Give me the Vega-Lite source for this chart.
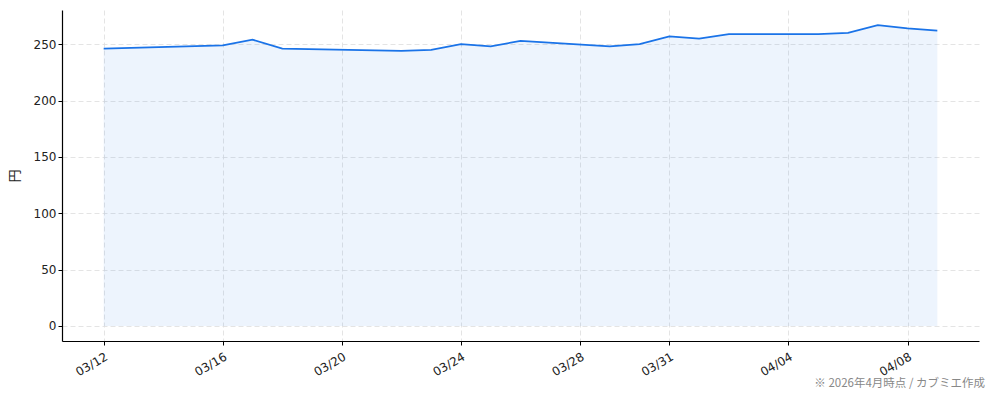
{
  "$schema": "https://vega.github.io/schema/vega-lite/v6.json",
  "description": "Daily price in yen, 2026-03-12 to 2026-04-09, line with light area fill.",
  "autosize": {"type": "none"},
  "padding": {"left": 62, "top": 10, "right": 15, "bottom": 60},
  "width": 917,
  "height": 331,
  "title": {
    "text": "※ 2026年4月時点 / カブミエ作成",
    "orient": "bottom",
    "anchor": "end",
    "fontSize": 11.5,
    "fontWeight": "normal",
    "color": "#888888",
    "font": "Noto Sans CJK JP",
    "dx": 6,
    "offset": 0
  },
  "data": {
    "values": [
      {"date": "2026-03-12", "price": 246},
      {"date": "2026-03-16", "price": 249},
      {"date": "2026-03-17", "price": 254},
      {"date": "2026-03-18", "price": 246},
      {"date": "2026-03-22", "price": 244},
      {"date": "2026-03-23", "price": 245},
      {"date": "2026-03-24", "price": 250},
      {"date": "2026-03-25", "price": 248},
      {"date": "2026-03-26", "price": 253},
      {"date": "2026-03-29", "price": 248},
      {"date": "2026-03-30", "price": 250},
      {"date": "2026-03-31", "price": 257},
      {"date": "2026-04-01", "price": 255},
      {"date": "2026-04-02", "price": 259},
      {"date": "2026-04-05", "price": 259},
      {"date": "2026-04-06", "price": 260},
      {"date": "2026-04-07", "price": 267},
      {"date": "2026-04-08", "price": 264},
      {"date": "2026-04-09", "price": 262}
    ]
  },
  "encoding": {
    "x": {
      "field": "date",
      "type": "temporal",
      "scale": {
        "type": "utc",
        "domain": [
          {"year": 2026, "month": 3, "date": 10, "hours": 14, "minutes": 24, "utc": true},
          {"year": 2026, "month": 4, "date": 10, "hours": 9, "minutes": 36, "utc": true}
        ]
      },
      "axis": {
        "title": null,
        "labelExpr": "utcFormat(datum.value, '%m/%d')",
        "values": [
          {"year": 2026, "month": 3, "date": 12, "utc": true},
          {"year": 2026, "month": 3, "date": 16, "utc": true},
          {"year": 2026, "month": 3, "date": 20, "utc": true},
          {"year": 2026, "month": 3, "date": 24, "utc": true},
          {"year": 2026, "month": 3, "date": 28, "utc": true},
          {"year": 2026, "month": 3, "date": 31, "utc": true},
          {"year": 2026, "month": 4, "date": 4, "utc": true},
          {"year": 2026, "month": 4, "date": 8, "utc": true}
        ],
        "labelAngle": -30,
        "labelAlign": "right",
        "labelBaseline": "top",
        "labelPadding": 6,
        "labelFlush": false,
        "labelOverlap": false
      }
    },
    "y": {
      "field": "price",
      "type": "quantitative",
      "scale": {"domain": [-13.35, 280.35], "nice": false, "zero": false},
      "axis": {
        "title": "円",
        "values": [0, 50, 100, 150, 200, 250],
        "titlePadding": 12
      }
    }
  },
  "layer": [
    {
      "mark": {"type": "area", "color": "#1a73e8", "opacity": 0.08}
    },
    {
      "mark": {"type": "line", "color": "#1a73e8", "strokeWidth": 1.8}
    }
  ],
  "config": {
    "view": {"stroke": null},
    "font": "DejaVu Sans, Noto Sans CJK JP",
    "axis": {
      "labelFont": "DejaVu Sans, Noto Sans CJK JP",
      "titleFont": "Noto Sans CJK JP",
      "labelFontSize": 12,
      "titleFontSize": 13,
      "titleFontWeight": "normal",
      "labelColor": "#222222",
      "titleColor": "#222222",
      "domainColor": "#000000",
      "domainWidth": 1.2,
      "tickColor": "#000000",
      "tickSize": 4,
      "tickWidth": 1,
      "grid": true,
      "gridColor": "#dddddd",
      "gridDash": [5, 3],
      "gridWidth": 0.8
    }
  }
}
